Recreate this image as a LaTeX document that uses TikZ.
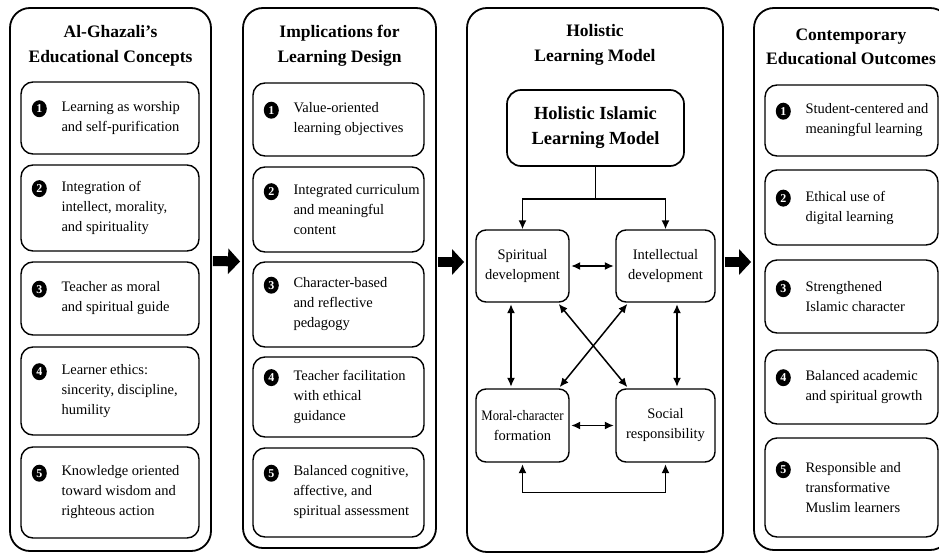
\documentclass[tikz,border=0pt]{standalone}
\usepackage{fontspec}
\setmainfont{Liberation Serif}
\usetikzlibrary{arrows.meta,positioning,shapes.geometric}

\tikzset{
  colbox/.style={draw,line width=1.8pt,rounded corners=20pt,inner sep=0pt},
  card/.style={draw,line width=1.4pt,rounded corners=12pt,inner sep=0pt},
  cardtxt/.style={align=left,inner sep=0pt,font=\fontsize{14.5}{20}\selectfont},
  numdot/.style={ellipse,fill=black,text=white,inner sep=0pt,minimum width=15pt,minimum height=17pt,
    font=\bfseries\fontsize{12}{12}\selectfont},
  headtxt/.style={align=center,inner sep=0pt,font=\bfseries\fontsize{17.5}{24.5}\selectfont},
  subbox/.style={draw,line width=1.4pt,rounded corners=10pt,minimum height=72pt,
    align=center,inner sep=0pt,font=\fontsize{14.5}{20}\selectfont},
  bigarrow/.style={line width=10pt,-{Triangle[length=12pt,width=25pt]}},
  tree/.style={line width=1.5pt,-{Latex[length=9pt,width=8pt]}},
  link/.style={line width=1.5pt,{Latex[length=9pt,width=8pt]}-{Latex[length=9pt,width=8pt]},
    shorten <=1.5pt,shorten >=1.5pt}
}

% #1 name, #2 centre x, #3 width, #4 top, #5 bottom, #6 number, #7 text
\newcommand{\itemcard}[7]{%
  \node[card,minimum width=#3,minimum height={#5-#4}] (#1) at (#2,{(#4+#5)/2}) {};
  \node[cardtxt,anchor=west] (#1-txt) at ([xshift=41pt]#1.west) {#7};
  \node[numdot,xshift=19pt,yshift=-7.5pt] (#1-num) at (#1.west |- #1-txt.north) {#6};
}

\begin{document}
\begin{tikzpicture}[x=1pt,y=-1pt]
\useasboundingbox (0,0) rectangle (939,554);
\clip (0,0) rectangle (939,554);

\node[colbox,minimum width=201,minimum height=543] (col1) at (110.5,279.5) {};
\node[colbox,minimum width=193,minimum height=540] (col2) at (339.5,278) {};
\node[colbox,minimum width=256,minimum height=544] (col3) at (595,280) {};
\node[colbox,minimum width=196,minimum height=542] (col4) at (852,279) {};

\node[headtxt] (head1) at (110.5,46) {Al-Ghazali's\\Educational Concepts};
\node[headtxt] (head2) at (339.5,46) {Implications for\\Learning Design};
\node[headtxt] (head3) at (595,45) {Holistic\\Learning Model};
\node[headtxt] (head4) at (851,47) {Contemporary\\Educational Outcomes};

\itemcard{a1}{110}{178}{82}{154}{1}{Learning as worship\\and self-purification}
\itemcard{a2}{110}{178}{165}{251}{2}{Integration of\\intellect, morality,\\and spirituality}
\itemcard{a3}{110}{178}{262}{335}{3}{Teacher as moral\\and spiritual guide}
\itemcard{a4}{110}{178}{347}{435}{4}{Learner ethics:\\sincerity, discipline,\\humility}
\itemcard{a5}{110}{178}{447}{538}{5}{Knowledge oriented\\toward wisdom and\\righteous action}

\itemcard{b1}{338.5}{171}{83}{156}{1}{Value-oriented\\learning objectives}
\itemcard{b2}{338.5}{171}{167}{252}{2}{Integrated curriculum\\and meaningful\\content}
\itemcard{b3}{338.5}{171}{262}{347}{3}{Character-based\\and reflective\\pedagogy}
\itemcard{b4}{338.5}{171}{357}{437}{4}{Teacher facilitation\\with ethical\\guidance}
\itemcard{b5}{338.5}{171}{448}{537}{5}{Balanced cognitive,\\affective, and\\spiritual assessment}

\itemcard{d1}{851.5}{173}{85}{156}{1}{Student-centered and\\meaningful learning}
\itemcard{d2}{851.5}{173}{170}{245}{2}{Ethical use of\\digital learning}
\itemcard{d3}{851.5}{173}{260}{333}{3}{Strengthened\\Islamic character}
\itemcard{d4}{851.5}{173}{350}{424}{4}{Balanced academic\\and spiritual growth}
\itemcard{d5}{851.5}{173}{438}{537}{5}{Responsible and\\transformative\\Muslim learners}

\node[draw,line width=1.7pt,rounded corners=14pt,minimum width=177,minimum height=76,
  align=center,inner sep=0pt,font=\bfseries\fontsize{18.5}{25}\selectfont]
  (model) at (595.5,128) {Holistic Islamic\\Learning Model};
\node[subbox,minimum width=93] (spir) at (522.5,266) {Spiritual\\development};
\node[subbox,minimum width=99] (intel) at (665.5,266) {Intellectual\\development};
\node[subbox,minimum width=93,minimum height=73] (moral) at (522.5,425.5)
  {\scalebox{0.88}[1]{Moral-character}\\formation};
\node[subbox,minimum width=99,minimum height=73] (social) at (665.5,425.5)
  {Social\\responsibility};

\draw[tree] (model.south) -- ++(0,32) coordinate (fork) -| (spir.north);
\draw[tree] (fork) -| (intel.north);
\draw[link] (spir) -- (intel);
\draw[link] (moral) -- (social);
\draw[link] ([xshift=-11.5pt]spir.south) -- ([xshift=-11.5pt]moral.north);
\draw[link] ([xshift=11.5pt]intel.south) -- ([xshift=11.5pt]social.north);
\draw[link] ([xshift=-12pt]spir.south east) -- ([xshift=13pt]social.north west);
\draw[link] ([xshift=13pt]intel.south west) -- ([xshift=-11pt]moral.north east);
\draw[link] (moral.south) -- ++(0,30) -| (social.south);

\draw[bigarrow,shorten <=1pt,shorten >=2pt] ([yshift=18.5pt]col1.east) -- ([yshift=16.5pt]col2.west);
\draw[bigarrow,shorten <=1pt,shorten >=2pt] ([yshift=16pt]col2.east) -- ([yshift=18pt]col3.west);
\draw[bigarrow,shorten <=1pt,shorten >=2pt] ([yshift=18pt]col3.east) -- ([yshift=17pt]col4.west);
\end{tikzpicture}
\end{document}
